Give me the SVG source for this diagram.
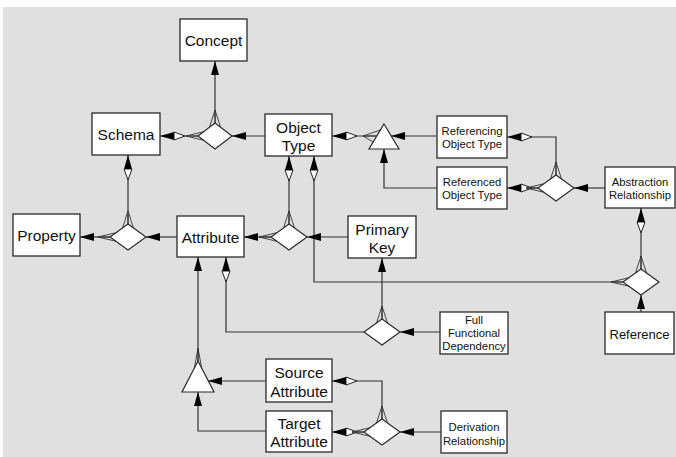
<svg xmlns="http://www.w3.org/2000/svg" width="676" height="457" viewBox="0 0 676 457">
<style>
.box{fill:#fff;stroke:#2a2a2a;stroke-width:1.3}
.shape{fill:#fff;stroke:#2a2a2a;stroke-width:1.2}
.t{font-family:"Liberation Sans",Arial,sans-serif;font-size:15.5px;fill:#111;text-anchor:middle}
.s{font-family:"Liberation Sans",Arial,sans-serif;font-size:11.3px;fill:#111;text-anchor:middle}
.m{font-family:"Liberation Sans",Arial,sans-serif;font-size:13px;fill:#111;text-anchor:middle}
.ln{fill:none;stroke:#333;stroke-width:1.2}
.cf{fill:none;stroke:#333;stroke-width:0.9}
</style>
<defs>
<g id="ah"><polygon points="0,0 -14,-4 -14,4" fill="#000"/></g>
<g id="ahw"><polygon points="-14,-4 -14,4 -25,0" fill="#fff" stroke="#222" stroke-width="1"/><polygon points="0,0 -14,-4 -14,4" fill="#000"/></g>
<g id="cfh"><path class="cf" d="M-12,0 L0,0 M-12,0 L6,-4.3 M-12,0 L6,4.3"/></g>
<g id="cfv"><path class="cf" d="M-13,0 L0,0 M-13,0 L4,-5.5 M-13,0 L4,5.5"/></g>
</defs>
<rect x="3" y="7" width="673" height="450" fill="#e0e0e0"/>

<g id="concept"><rect class="box" x="180" y="19" width="67" height="42"/><text class="t" x="213.5" y="46">Concept</text></g>
<g id="schema"><rect class="box" x="92" y="113" width="68" height="42"/><text class="t" x="126" y="140">Schema</text></g>
<g id="object-type"><rect class="box" x="265" y="114" width="67" height="42"/><text class="t" x="298.5" y="132.5">Object</text><text class="t" x="298.5" y="150.5">Type</text></g>
<g id="referencing-object-type"><rect class="box" x="437" y="116" width="70" height="42"/><text class="s" x="472" y="135">Referencing</text><text class="s" x="472" y="148">Object Type</text></g>
<g id="referenced-object-type"><rect class="box" x="437" y="167" width="70" height="42"/><text class="s" x="472" y="186">Referenced</text><text class="s" x="472" y="199">Object Type</text></g>
<g id="abstraction-relationship"><rect class="box" x="605" y="167" width="70" height="41"/><text class="s" x="640" y="185.5">Abstraction</text><text class="s" x="640" y="198.5">Relationship</text></g>
<g id="property"><rect class="box" x="13" y="214" width="67" height="42"/><text class="t" x="46.5" y="241">Property</text></g>
<g id="attribute"><rect class="box" x="177" y="216" width="67" height="41"/><text class="t" x="210.5" y="242.5">Attribute</text></g>
<g id="primary-key"><rect class="box" x="348" y="216" width="68" height="42"/><text class="t" x="382" y="234.5">Primary</text><text class="t" x="382" y="252.5">Key</text></g>
<g id="full-functional-dependency"><rect class="box" x="440" y="312" width="68" height="42"/><text class="s" x="474" y="324">Full</text><text class="s" x="474" y="337">Functional</text><text class="s" x="474" y="350">Dependency</text></g>
<g id="reference"><rect class="box" x="605" y="312" width="69" height="42"/><text class="m" x="639.5" y="339">Reference</text></g>
<g id="source-attribute"><rect class="box" x="266" y="359" width="66" height="43"/><text class="t" x="299" y="378">Source</text><text class="t" x="299" y="396.5">Attribute</text></g>
<g id="target-attribute"><rect class="box" x="266" y="411" width="66" height="41"/><text class="t" x="299" y="429">Target</text><text class="t" x="299" y="447">Attribute</text></g>
<g id="derivation-relationship"><rect class="box" x="441" y="411" width="66" height="42"/><text class="s" x="474" y="431">Derivation</text><text class="s" x="474" y="444.5">Relationship</text></g>

<g id="rel-concept"><polygon class="shape" points="215,123 232,136 215,149 198,136"/></g>
<g id="rel-property"><polygon class="shape" points="128,224 146,237 128,250 110,237"/></g>
<g id="rel-attribute"><polygon class="shape" points="289,224 307,237 289,250 271,237"/></g>
<g id="rel-primary-key"><polygon class="shape" points="382,319 400,332 382,345 364,332"/></g>
<g id="rel-abstraction"><polygon class="shape" points="556,175 574,188 556,201 538,188"/></g>
<g id="rel-reference"><polygon class="shape" points="641,269 659,282 641,295 623,282"/></g>
<g id="rel-derivation"><polygon class="shape" points="382,419 400,432 382,445 364,432"/></g>
<g id="isa-object-type"><polygon class="shape" points="384,124 399,149 369,149"/></g>
<g id="isa-attribute"><polygon class="shape" points="198,361 214,392 182,392"/></g>

<g id="connectors">
<path class="ln" d="M215,61 V123"/>
<path class="ln" d="M160,136 H198"/>
<path class="ln" d="M232,136 H265"/>
<path class="ln" d="M332,136 H377"/>
<path class="ln" d="M391,136 H437"/>
<path class="ln" d="M437,188 H384 V149"/>
<path class="ln" d="M507,137 H556 V175"/>
<path class="ln" d="M507,188 H538"/>
<path class="ln" d="M574,188 H605"/>
<path class="ln" d="M641,208 V269"/>
<path class="ln" d="M641,295 V312"/>
<path class="ln" d="M623,282 H314 V156"/>
<path class="ln" d="M80,237 H110"/>
<path class="ln" d="M128,155 V224"/>
<path class="ln" d="M146,237 H177"/>
<path class="ln" d="M244,237 H271"/>
<path class="ln" d="M289,156 V224"/>
<path class="ln" d="M307,237 H348"/>
<path class="ln" d="M382,258 V319"/>
<path class="ln" d="M400,332 H440"/>
<path class="ln" d="M364,332 H226 V257"/>
<path class="ln" d="M198,257 V361"/>
<path class="ln" d="M208,381 H266"/>
<path class="ln" d="M266,431 H198 V392"/>
<path class="ln" d="M332,381 H382 V419"/>
<path class="ln" d="M332,432 H364"/>
<path class="ln" d="M400,432 H441"/>

<use href="#ah" transform="translate(215,61) rotate(-90)"/>
<use href="#cfv" transform="translate(215,123) rotate(90)"/>
<use href="#ahw" transform="translate(160,136) rotate(180)"/>
<use href="#cfh" transform="translate(198,136)"/>
<use href="#ah" transform="translate(232,136) rotate(180)"/>
<use href="#ahw" transform="translate(332,136) rotate(180)"/>
<path class="cf" d="M363,136 L377,136 M363,136 L380.4,130 M363,136 L373.2,142"/>
<use href="#ah" transform="translate(391,136) rotate(180)"/>
<use href="#ah" transform="translate(384,149) rotate(-90)"/>
<use href="#ahw" transform="translate(507,137) rotate(180)"/>
<use href="#cfv" transform="translate(556,175) rotate(90)"/>
<use href="#ahw" transform="translate(507,188) rotate(180)"/>
<use href="#cfh" transform="translate(538,188)"/>
<use href="#ah" transform="translate(574,188) rotate(180)"/>
<use href="#ahw" transform="translate(641,208) rotate(-90)"/>
<use href="#cfv" transform="translate(641,269) rotate(90)"/>
<use href="#ah" transform="translate(641,295) rotate(-90)"/>
<use href="#ahw" transform="translate(314,156) rotate(-90)"/>
<use href="#cfh" transform="translate(623,282)"/>
<use href="#ah" transform="translate(80,237) rotate(180)"/>
<use href="#cfh" transform="translate(110,237)"/>
<use href="#ahw" transform="translate(128,155) rotate(-90)"/>
<use href="#cfv" transform="translate(128,224) rotate(90)"/>
<use href="#ah" transform="translate(146,237) rotate(180)"/>
<use href="#ah" transform="translate(244,237) rotate(180)"/>
<use href="#cfh" transform="translate(271,237)"/>
<use href="#ahw" transform="translate(289,156) rotate(-90)"/>
<use href="#cfv" transform="translate(289,224) rotate(90)"/>
<use href="#ah" transform="translate(307,237) rotate(180)"/>
<use href="#ah" transform="translate(382,258) rotate(-90)"/>
<use href="#cfv" transform="translate(382,319) rotate(90)"/>
<use href="#ah" transform="translate(400,332) rotate(180)"/>
<use href="#ahw" transform="translate(226,257) rotate(-90)"/>
<use href="#ah" transform="translate(198,257) rotate(-90)"/>
<path class="cf" d="M198,348 L198,361 M198,348 L194.4,368 M198,348 L201.6,368"/>
<use href="#ah" transform="translate(208,381) rotate(180)"/>
<use href="#ah" transform="translate(198,392) rotate(-90)"/>
<use href="#ahw" transform="translate(332,381) rotate(180)"/>
<use href="#cfv" transform="translate(382,419) rotate(90)"/>
<use href="#ahw" transform="translate(332,432) rotate(180)"/>
<use href="#cfh" transform="translate(364,432)"/>
<use href="#ah" transform="translate(400,432) rotate(180)"/>
</g>
</svg>
